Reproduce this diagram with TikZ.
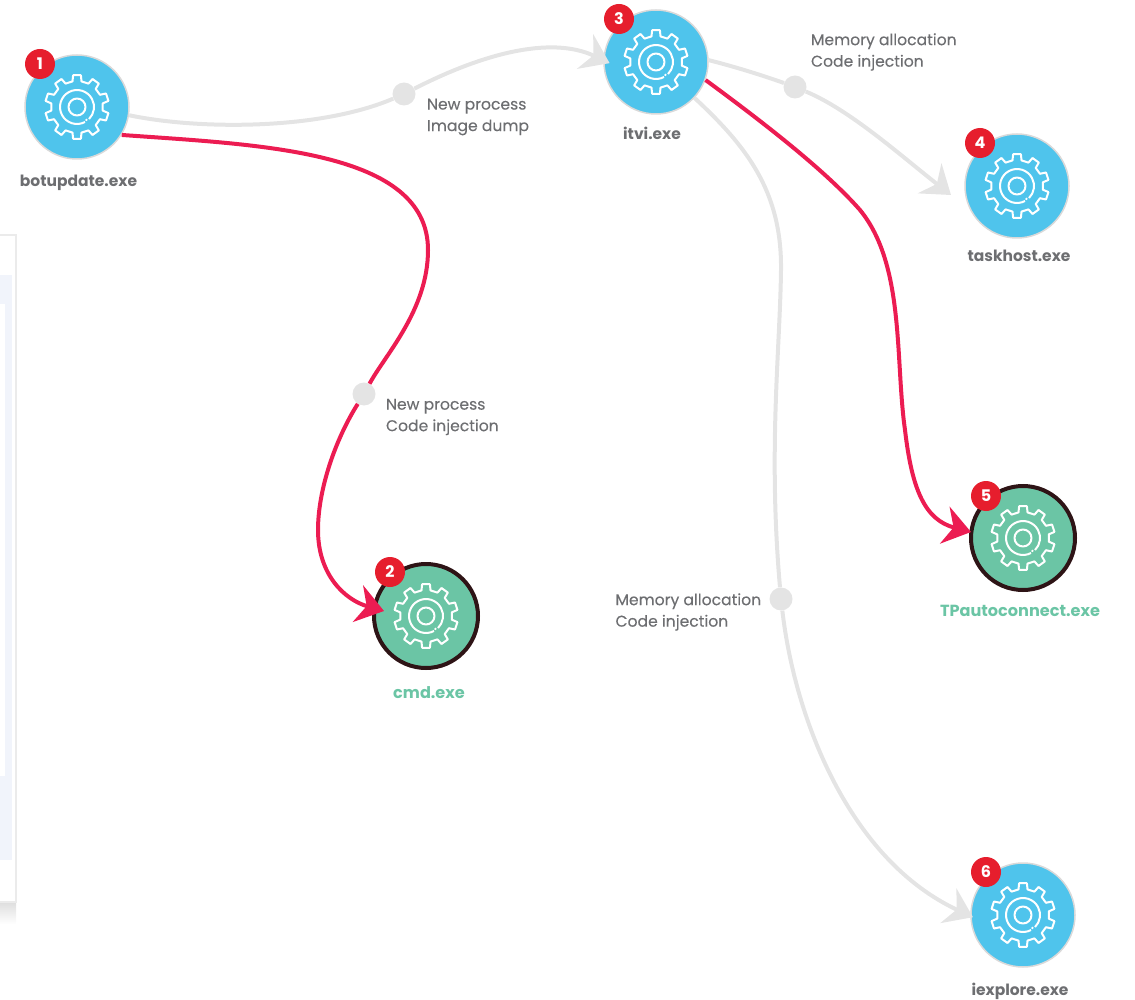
\documentclass[tikz,border=0pt]{standalone}
\usepackage{fontspec}
\setmainfont{Poppins}
\newfontfamily\notefont[FakeBold=0.2]{Poppins}
\usetikzlibrary{arrows.meta}
\definecolor{procblue}{HTML}{4FC4EC}
\definecolor{procgreen}{HTML}{6BC5A5}
\definecolor{procdark}{HTML}{2E1416}
\definecolor{rimgray}{HTML}{D9D9D9}
\definecolor{linkgray}{HTML}{E4E4E4}
\definecolor{linkred}{HTML}{EC1C52}
\definecolor{badgered}{HTML}{E61E2D}
\definecolor{textgray}{HTML}{6D6E71}
\definecolor{panelblue}{HTML}{F1F4FB}
\tikzset{
  proc/.style={circle,fill=procblue,draw=rimgray,line width=1.5pt,minimum size=104pt,inner sep=0pt},
  procinj/.style={proc,fill=procgreen,draw=procdark,line width=4pt},
  badge/.style={circle,fill=badgered,text=white,minimum size=30pt,inner sep=0pt,font=\fontsize{16}{16}\selectfont\bfseries},
  waydot/.style={circle,fill=linkgray,minimum size=23pt,inner sep=0pt},
  procname/.style={text=textgray,anchor=base,font=\fontsize{15.5}{18}\selectfont\bfseries},
  injname/.style={procname,text=procgreen,font=\fontsize{16.1}{18}\selectfont\bfseries},
  linknote/.style={text=textgray,align=left,anchor=west,font=\fontsize{15.6}{21.5}\selectfont\notefont},
  graylink/.style={draw=linkgray,line width=4pt},
  redlink/.style={draw=linkred,line width=4pt},
  grayhead/.style={graylink,-{Stealth[length=27pt,width=38pt,inset=9pt,fill=linkgray]}},
  redhead/.style={redlink,-{Stealth[length=27pt,width=38pt,inset=9pt,fill=linkred]}},
  gearline/.style={white,line width=2pt,line join=round}
}
\newcommand{\gearicon}[1]{
    \begin{scope}[shift={(#1)}]
        \draw[gearline] (8:26)
            \foreach \a in {18,54,...,342} { -- (\a-10:26) -- (\a-7:32) -- (\a+7:32) -- (\a+10:26) } -- cycle;
        \draw[gearline] (62:17) arc (62:405:17);
        \draw[gearline] (0,0) circle (8.5);
        \fill[white] (54:16) circle (1.3);
    \end{scope}
}
\begin{document}
\begin{tikzpicture}[x=1pt,y=-1pt]
    \useasboundingbox (0,0) rectangle (1135,1000);

    % --- Panel at the left edge ---
    \shade[top color=black!13,bottom color=white] (0,902) rectangle (16,924);
    \fill[white] (0,235) rectangle (16,902);
    \draw[black!8,line width=1.2pt] (0,235) -- (16,235) -- (16,902) -- (0,902);
    \fill[panelblue] (0,275) rectangle (12,860);
    \fill[white] (0,304) rectangle (5,776);
    % ---

    % --- Processes ---
    \node[proc] (botupdate) at (77,107) {};
    \node[procinj] (cmd) at (426,616) {};
    \node[proc] (itvi) at (656,62) {};
    \node[proc] (taskhost) at (1017,186) {};
    \node[procinj] (tpauto) at (1023,538) {};
    \node[proc] (iexplore) at (1023,915) {};
    \foreach \p in {botupdate,cmd,itvi,taskhost,tpauto,iexplore}
        \gearicon{\p};
    % ---

    % --- Process names ---
    \node[procname] (botupdatename) at (78.5,187) {botupdate.exe};
    \node[injname] (cmdname) at (429,698) {cmd.exe};
    \node[procname] (itviname) at (652,140) {itvi.exe};
    \node[procname] (taskhostname) at (1019,262) {taskhost.exe};
    \node[injname] (tpautoname) at (1020,616) {TPautoconnect.exe};
    \node[procname] (iexplorename) at (1020,995) {iexplore.exe};
    % ---

    % --- Dots on the links and their notes ---
    \node[waydot] (dotitvi) at (404,94) {};
    \node[waydot] (dotcmd) at (364,394) {};
    \node[waydot] (dottask) at (795,87) {};
    \node[waydot] (dotie) at (781,599) {};
    \node[linknote] (noteitvi) at (423.5,117) {New process\\Image dump};
    \node[linknote] (notecmd) at (382.5,417) {New process\\Code injection};
    \node[linknote] (notetask) at (807.5,52) {Memory allocation\\Code injection};
    \node[linknote] (noteie) at (612,612) {Memory allocation\\Code injection};
    % ---

    % --- Links ---
    \draw[graylink] (botupdate.-9) .. controls (200,130) and (320,130) .. (dotitvi);
    \draw[grayhead,shorten >=-7pt] (dotitvi) .. controls (480,55) and (550,35) .. (itvi.178);
    \draw[graylink] (itvi.2) .. controls (740,68) and (770,78) .. (dottask);
    \draw[grayhead] (dottask) .. controls (850,110) and (900,155) .. (951,195);
    \draw[graylink] (itvi.-43) .. controls (745,145) and (782,190) .. (781,270)
        .. controls (780,350) and (768,450) .. (dotie);
    \draw[grayhead,shorten >=-3pt] (dotie) .. controls (795,720) and (850,860) .. (iexplore.181);
    \draw[redlink] (botupdate.-32) .. controls (260,145) and (428,150) .. (428,250)
        .. controls (428,310) and (385,355) .. (dotcmd);
    \draw[redhead] (dotcmd) .. controls (335,440) and (318,490) .. (318,530)
        .. controls (318,575) and (345,600) .. (384,611);
    \draw[redlink] (itvi.-20) .. controls (760,120) and (825,170) .. (860,210)
        .. controls (905,265) and (895,360) .. (905,430);
    \draw[redhead] (905,430) .. controls (912,490) and (925,520) .. (971,532);
    % ---

    % --- Badges ---
    \node[badge] (badgeone) at (40,64) {1};
    \node[badge] (badgetwo) at (390,572) {2};
    \node[badge] (badgethree) at (619,19) {3};
    \node[badge] (badgefour) at (980,143) {4};
    \node[badge] (badgefive) at (986,496) {5};
    \node[badge] (badgesix) at (986,872) {6};
    % ---
\end{tikzpicture}
\end{document}
